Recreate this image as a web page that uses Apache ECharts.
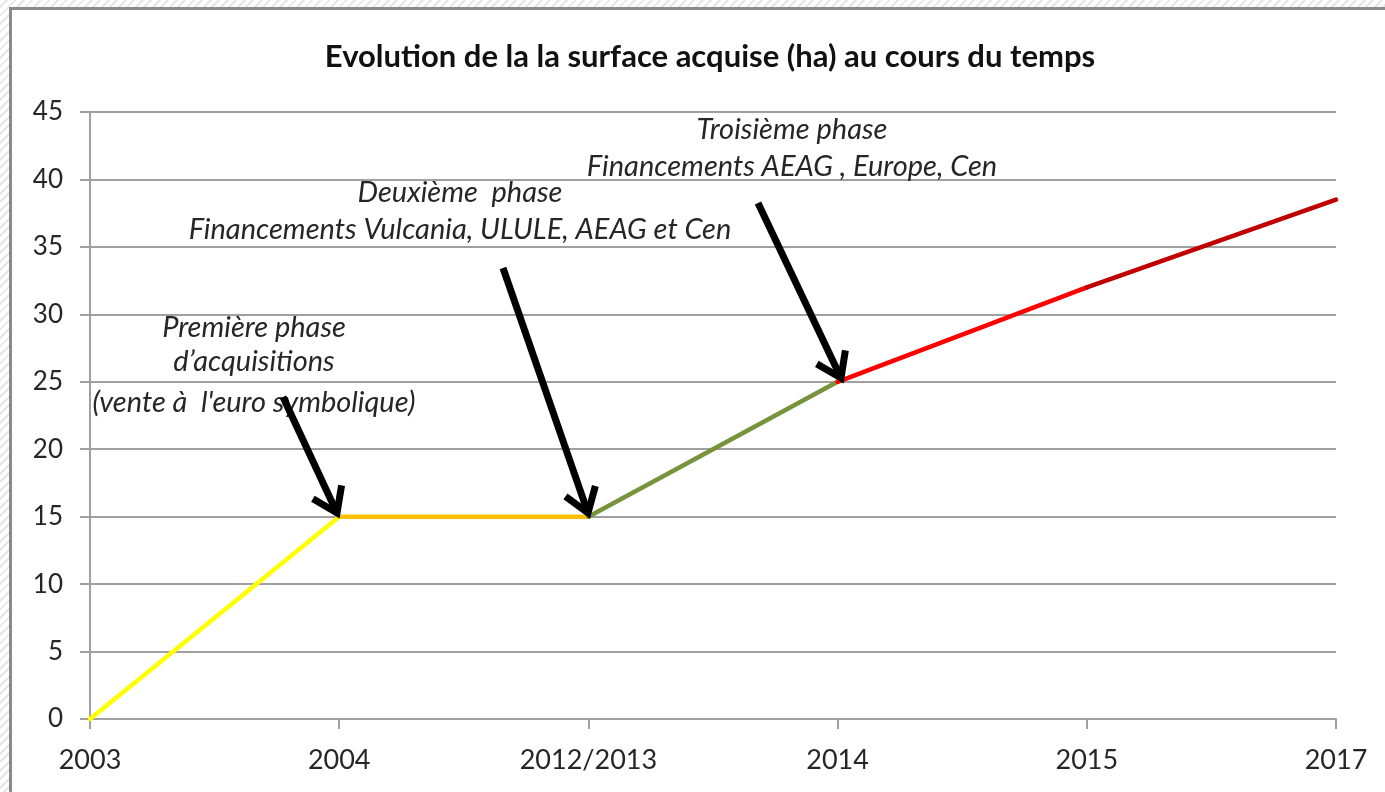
<!DOCTYPE html>
<html>
<head>
<meta charset="utf-8">
<script src="https://cdn.jsdelivr.net/npm/echarts@6/dist/echarts.min.js"></script>
<style>
  html, body { margin: 0; padding: 0; }
  body {
    width: 1385px; height: 792px; overflow: hidden; position: relative;
    background: repeating-linear-gradient(135deg, #ffffff 0px, #ffffff 4px, #e6e6e6 4px, #e6e6e6 6px);
  }
  #frame {
    position: absolute; left: 9px; top: 7px; width: 1390px; height: 800px;
    background: #fff; border-left: 3px solid #8a8a8a; border-top: 3px solid #8a8a8a;
  }
  #main { position: absolute; left: 0; top: 0; width: 1385px; height: 792px; }
</style>
</head>
<body>
<div id="frame"></div>
<div id="main"></div>
<script>
// data
const years = ['2003', '2004', '2012/2013', '2014', '2015', '2017'];
const surface = [0, 15, 15, 25, 32, 38.5];
const segmentColors = ['#ffff00', '#ffc000', '#77933c', '#ff0000', '#c00000'];

// annotations (text lines, centre x / middle y in page pixels)
const notes = [
  { lines: ['Première phase', 'd\u2019acquisitions', '(vente à  l\'euro symbolique)'], x: 254, y: [328, 362, 403] },
  { lines: ['Deuxième  phase', 'Financements Vulcania, ULULE, AEAG et Cen'], x: 460, y: [193, 230] },
  { lines: ['Troisième phase', 'Financements AEAG , Europe, Cen'], x: 792, y: [130, 167] }
];
const arrows = [
  [[283, 397], [337, 513]],
  [[503, 268], [588, 513]],
  [[758, 203], [841, 378]]
];

const FONT = 'Lato, "Open Sans", sans-serif';
let myChart = echarts.init(document.getElementById('main'));

// one series per coloured segment
let series = segmentColors.map(function (c, i) {
  return {
    type: 'line',
    data: surface.map((v, j) => (j === i || j === i + 1) ? v : null),
    showSymbol: false,
    connectNulls: false,
    lineStyle: { color: c, width: 4.5, cap: 'round' },
    z: 3
  };
});

let graphics = [];
notes.forEach(function (n) {
  n.lines.forEach(function (t, k) {
    graphics.push({
      type: 'text',
      x: n.x, y: n.y[k],
      style: {
        text: t,
        fill: '#262626',
        fontStyle: 'italic',
        fontSize: 29,
        fontFamily: FONT,
        align: 'center',
        verticalAlign: 'middle'
      },
      z: 10
    });
  });
});
arrows.forEach(function (a) {
  let [p0, p1] = a;
  let ang = Math.atan2(p1[1] - p0[1], p1[0] - p0[0]);
  let len = 28, spread = 0.6;
  let h1 = [p1[0] - len * Math.cos(ang - spread), p1[1] - len * Math.sin(ang - spread)];
  let h2 = [p1[0] - len * Math.cos(ang + spread), p1[1] - len * Math.sin(ang + spread)];
  graphics.push({
    type: 'polyline', shape: { points: [p0, [p1[0] - 3 * Math.cos(ang), p1[1] - 3 * Math.sin(ang)]] },
    style: { stroke: '#000', lineWidth: 7, lineCap: 'butt' }, z: 10
  });
  graphics.push({
    type: 'polyline', shape: { points: [h1, p1, h2] },
    style: { stroke: '#000', lineWidth: 7, lineJoin: 'miter', fill: null }, z: 10
  });
});

let option = {
  animation: false,
  title: {
    text: 'Evolution de la la surface acquise (ha) au cours du temps',
    left: 705,
    textAlign: 'center',
    top: 36,
    textStyle: { fontFamily: FONT, fontWeight: 'bold', fontSize: 31, color: '#111' }
  },
  grid: { left: 90, right: 49, top: 112, bottom: 73 },
  xAxis: {
    type: 'category',
    data: years,
    boundaryGap: false,
    axisLine: { lineStyle: { color: '#a0a0a0', width: 2 } },
    axisTick: { show: true, length: 10, alignWithLabel: true, lineStyle: { color: '#a0a0a0', width: 2 } },
    axisLabel: { margin: 28, fontSize: 27, color: '#262626', fontFamily: FONT },
    splitLine: { show: false }
  },
  yAxis: {
    type: 'value',
    min: 0, max: 45, interval: 5,
    axisLine: { show: true, lineStyle: { color: '#a0a0a0', width: 2 } },
    axisTick: { show: true, length: 10, lineStyle: { color: '#a0a0a0', width: 2 } },
    axisLabel: { margin: 27, fontSize: 26, color: '#262626', fontFamily: FONT },
    splitLine: { lineStyle: { color: '#a0a0a0', width: 2 } }
  },
  series: series,
  graphic: graphics
};
myChart.setOption(option);
</script>
</body>
</html>
